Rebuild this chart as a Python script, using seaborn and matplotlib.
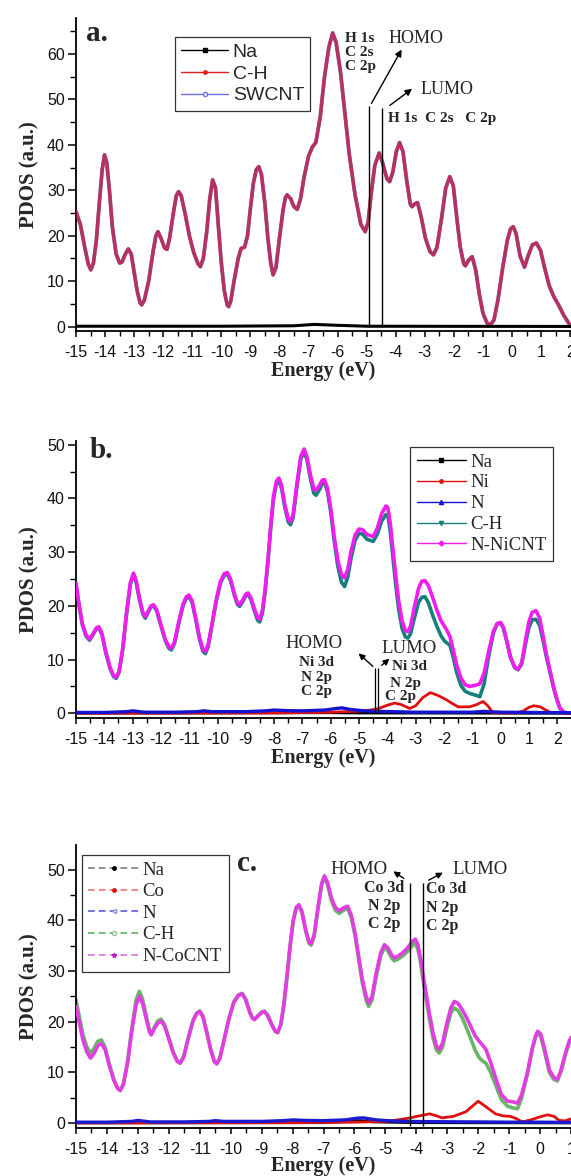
import numpy as np
import pandas as pd
import seaborn as sns
import matplotlib
matplotlib.use("Agg")
import matplotlib.pyplot as plt
from matplotlib.lines import Line2D
from matplotlib.ticker import MultipleLocator

sns.set_theme(style="ticks")
plt.rcParams['font.family'] = ['Liberation Sans', 'DejaVu Sans']
plt.rcParams['axes.unicode_minus'] = False
SERIF = ['Liberation Serif', 'DejaVu Serif']

# ---------------- panel a data ----------------
energy_a = [-15.0, -14.85, -14.7, -14.58, -14.49, -14.4, -14.3, -14.2, -14.1, -14.02, -13.94, -13.85,
            -13.75, -13.62, -13.5, -13.42, -13.3, -13.2, -13.1, -13.0, -12.9, -12.8, -12.74, -12.65,
            -12.5, -12.35, -12.25, -12.18, -12.08, -11.95, -11.87, -11.78, -11.65, -11.55, -11.47,
            -11.38, -11.25, -11.1, -10.95, -10.8, -10.72, -10.62, -10.5, -10.4, -10.3, -10.2, -10.1,
            -10.0, -9.9, -9.8, -9.75, -9.68, -9.55, -9.42, -9.32, -9.2, -9.1, -9.0, -8.9, -8.8, -8.71,
            -8.62, -8.5, -8.4, -8.3, -8.22, -8.12, -8.0, -7.88, -7.8, -7.74, -7.62, -7.5, -7.39, -7.28,
            -7.15, -7.0, -6.87, -6.75, -6.6, -6.45, -6.3, -6.17, -6.05, -5.9, -5.75, -5.6, -5.4, -5.2,
            -5.05, -4.95, -4.85, -4.72, -4.57, -4.45, -4.3, -4.21, -4.1, -3.98, -3.87, -3.75, -3.62,
            -3.5, -3.44, -3.35, -3.25, -3.12, -2.98, -2.82, -2.7, -2.58, -2.42, -2.28, -2.14, -2.02,
            -1.9, -1.78, -1.66, -1.6, -1.5, -1.37, -1.25, -1.12, -1.0, -0.86, -0.74, -0.62, -0.48,
            -0.32, -0.16, -0.05, 0.04, 0.14, 0.28, 0.43, 0.55, 0.7, 0.84, 0.98, 1.12, 1.28, 1.44, 1.6,
            1.78, 1.99]
ch_a = [25.3, 22.5, 17.5, 13.8, 12.5, 14.0, 19.0, 27.0, 34.5, 37.8, 36.0, 30.0,
        22.0, 16.0, 14.0, 14.2, 16.0, 17.1, 16.0, 12.0, 8.0, 5.3, 4.8, 5.8,
        10.0, 16.5, 20.0, 20.9, 19.5, 17.3, 17.0, 19.5, 25.0, 28.8, 29.7,
        28.8, 25.0, 20.0, 16.3, 13.8, 13.2, 15.0, 21.0, 28.0, 32.3, 30.5, 22.0,
        14.0, 8.0, 4.8, 4.4, 5.5, 10.5, 15.0, 17.2, 17.5, 20.0, 26.0, 31.5, 34.5, 35.2,
        33.5, 27.0, 19.5, 14.0, 11.4, 13.0, 19.5, 25.5, 28.3, 29.0, 28.2, 26.4, 25.8, 28.0,
        33.0, 37.5, 39.5, 40.5, 46.0, 55.0, 61.5, 64.6, 62.5, 56.0, 47.0, 38.0, 29.0, 22.5,
        20.9, 23.0, 29.0, 35.5, 38.2, 36.0, 32.5, 31.9, 34.0, 38.5, 40.5, 38.5, 32.0,
        27.0, 26.4, 27.0, 27.3, 24.0, 19.5, 16.5, 15.8, 17.5, 24.0, 30.5, 33.0, 31.0,
        24.0, 17.5, 13.8, 13.4, 14.6, 15.4, 12.5, 7.0, 3.0, 0.8, 0.4, 1.5, 6.0,
        13.0, 19.0, 21.5, 22.0, 20.5, 15.5, 13.1, 15.5, 18.0, 18.4, 16.8, 13.0, 9.0, 6.6, 4.8,
        2.5, 0.4]
swcnt_a = list(ch_a)  # SWCNT coincides with C-H in the picture
na_energy_a = [-15.0, -10.0, -7.5, -6.8, -6.0, -5.0, 2.03]
na_a = [0.1, 0.1, 0.2, 0.5, 0.3, 0.1, 0.05]

# ---------------- panel b data ----------------
energy_b = [-15.0, -14.9, -14.78, -14.65, -14.52, -14.4, -14.28, -14.19, -14.08, -13.95, -13.8, -13.68,
            -13.58, -13.48, -13.35, -13.22, -13.08, -12.97, -12.88, -12.76, -12.64, -12.55, -12.45,
            -12.35, -12.26, -12.15, -12.0, -11.85, -11.72, -11.63, -11.52, -11.38, -11.22, -11.1,
            -11.01, -10.9, -10.78, -10.64, -10.52, -10.43, -10.33, -10.2, -10.05, -9.9, -9.76, -9.65,
            -9.54, -9.4, -9.3, -9.22, -9.12, -9.0, -8.92, -8.82, -8.7, -8.58, -8.51, -8.42, -8.32,
            -8.22, -8.12, -8.02, -7.92, -7.83, -7.74, -7.62, -7.5, -7.42, -7.33, -7.2, -7.06, -6.94,
            -6.84, -6.72, -6.6, -6.52, -6.4, -6.3, -6.22, -6.12, -6.0, -5.88, -5.75, -5.62, -5.51,
            -5.4, -5.28, -5.14, -5.0, -4.88, -4.72, -4.5, -4.35, -4.2, -4.05, -3.98, -3.9, -3.8, -3.7,
            -3.6, -3.48, -3.36, -3.27, -3.18, -3.05, -2.9, -2.78, -2.67, -2.55, -2.4, -2.25, -2.1,
            -1.97, -1.87, -1.79, -1.68, -1.55, -1.4, -1.25, -1.09, -0.9, -0.73, -0.58, -0.42, -0.25,
            -0.12, 0.0, 0.1, 0.22, 0.35, 0.5, 0.62, 0.75, 0.88, 1.0, 1.12, 1.25, 1.38, 1.5, 1.62,
            1.74, 1.88, 2.0, 2.1, 2.21, 2.35, 2.49]
nicnt_b = [24.2, 20.5, 16.8, 14.6, 13.8, 14.8, 15.9, 16.1, 14.8, 11.5, 8.6, 7.1,
           6.7, 7.8, 12.0, 18.5, 24.3, 26.1, 24.8, 21.5, 18.8, 18.0, 19.0,
           20.0, 20.2, 19.3, 16.5, 13.8, 12.4, 12.1, 13.3, 16.8, 20.3, 21.7,
           22.0, 21.0, 18.0, 14.2, 12.0, 11.5, 12.8, 16.5, 21.0, 24.5, 26.0, 26.2,
           25.0, 22.2, 20.6, 20.2, 21.0, 22.2, 22.4, 21.5, 19.5, 17.8, 17.5, 19.0, 23.0,
           28.5, 35.0, 40.5, 43.2, 43.8, 42.5, 38.8, 36.2, 35.7, 37.0, 42.5, 47.8, 49.2,
           47.8, 44.5, 41.8, 41.5, 42.4, 43.4, 43.5, 42.0, 38.2, 33.0, 28.5, 25.8, 25.2,
           26.8, 30.2, 33.2, 34.3, 34.2, 33.3, 32.9, 34.5, 37.2, 38.6, 38.3, 35.5, 30.5, 25.5,
           21.0, 17.2, 15.4, 15.2, 16.2, 19.6, 23.2, 24.6, 24.7, 23.8, 21.6, 19.2, 17.2,
           16.1, 15.2, 14.3, 12.0, 9.0, 6.6, 5.3, 5.0, 5.2, 5.5, 7.5, 11.5, 15.3,
           16.7, 16.9, 16.0, 13.5, 10.5, 8.6, 8.2, 9.5, 13.5, 17.0, 18.8, 19.1, 17.8, 14.5, 11.0,
           8.1, 4.8, 2.5, 1.0, 0.3, 0.05, 0.0]
ch_b = [24.0, 20.3, 16.6, 14.4, 13.6, 14.6, 15.7, 15.9, 14.6, 11.3, 8.4, 6.9,
        6.5, 7.6, 11.8, 18.2, 24.0, 25.8, 24.5, 21.2, 18.5, 17.7, 18.8,
        19.8, 20.0, 19.1, 16.3, 13.6, 12.1, 11.8, 13.0, 16.5, 20.0, 21.4,
        21.7, 20.7, 17.7, 13.9, 11.6, 11.1, 12.4, 16.2, 20.7, 24.2, 25.7, 25.9,
        24.7, 21.9, 20.3, 19.9, 20.7, 21.9, 22.1, 21.2, 19.1, 17.3, 17.0, 18.5, 22.5,
        28.0, 34.5, 40.0, 42.7, 43.3, 42.0, 38.3, 35.6, 35.1, 36.4, 42.0, 47.3, 48.7,
        47.2, 43.8, 41.0, 40.6, 41.6, 42.8, 43.0, 41.4, 37.5, 32.2, 27.4, 24.4, 23.6,
        25.3, 28.9, 32.2, 33.5, 33.4, 32.4, 32.0, 33.4, 35.8, 37.0, 36.8, 34.0, 28.9, 23.8,
        19.4, 15.8, 14.2, 14.0, 14.8, 17.6, 20.6, 21.6, 21.7, 20.6, 18.3, 16.2, 14.4,
        13.4, 13.0, 12.7, 10.6, 7.6, 5.2, 4.1, 3.7, 3.4, 3.1, 5.5, 10.6, 15.0,
        16.6, 16.8, 15.9, 13.4, 10.4, 8.5, 8.1, 9.2, 12.8, 15.9, 17.4, 17.5, 16.4, 13.6, 10.5,
        7.8, 4.6, 2.4, 0.9, 0.25, 0.05, 0.0]
ni_energy_b = [-15.0, -8.0, -6.0, -5.0, -4.6, -4.3, -4.0, -3.74, -3.5, -3.21, -3.0, -2.75, -2.48, -2.2,
               -1.91, -1.7, -1.5, -1.09, -0.85, -0.62, -0.45, -0.27, 0.0, 0.5, 0.8, 1.0, 1.18, 1.4,
               1.74, 2.49]
ni_b = [0.0, 0.05, 0.2, 0.4, 0.6, 0.9, 1.5, 1.9, 1.6, 0.9, 1.4, 2.9, 3.85, 3.3,
        2.5, 1.8, 1.2, 1.2, 1.6, 2.2, 1.4, 0.1, 0.05, 0.05, 0.4, 1.1, 1.4, 1.2, 0.2, 0.0]
n_energy_b = [-15.0, -14.0, -13.2, -13.0, -12.6, -11.5, -10.7, -10.5, -10.2, -9.0, -8.3, -8.0, -7.6,
              -7.0, -6.2, -5.8, -5.6, -5.3, -4.8, -4.3, -3.8, -3.0, -2.0, -1.0, -0.6, 0.0, 1.0, 2.49]
n_b = [0.15, 0.15, 0.3, 0.45, 0.2, 0.2, 0.3, 0.45, 0.3, 0.3, 0.45, 0.6, 0.5,
       0.45, 0.6, 0.9, 1.0, 0.7, 0.45, 0.35, 0.3, 0.2, 0.2, 0.2, 0.35, 0.2, 0.15, 0.1]
na_energy_b = [-15.0, -6.0, -5.0, 2.49]
na_b = [0.02, 0.1, 0.05, 0.0]

# ---------------- panel c data ----------------
energy_c = [-15.0, -14.9, -14.78, -14.65, -14.53, -14.42, -14.3, -14.18, -14.06, -13.93, -13.78, -13.66,
            -13.57, -13.47, -13.33, -13.2, -13.06, -12.95, -12.85, -12.72, -12.62, -12.57, -12.46,
            -12.35, -12.25, -12.14, -12.0, -11.85, -11.72, -11.63, -11.52, -11.38, -11.22, -11.1,
            -11.0, -10.9, -10.78, -10.64, -10.53, -10.45, -10.35, -10.22, -10.06, -9.9, -9.75, -9.63,
            -9.52, -9.38, -9.3, -9.23, -9.12, -9.0, -8.91, -8.8, -8.68, -8.56, -8.48, -8.38, -8.28,
            -8.18, -8.08, -7.98, -7.88, -7.8, -7.7, -7.58, -7.47, -7.4, -7.3, -7.18, -7.06, -6.97,
            -6.87, -6.75, -6.62, -6.49, -6.35, -6.22, -6.1, -5.98, -5.88, -5.75, -5.62, -5.54, -5.43,
            -5.3, -5.15, -5.03, -4.92, -4.8, -4.71, -4.58, -4.44, -4.28, -4.12, -4.03, -3.95, -3.86,
            -3.79, -3.68, -3.58, -3.46, -3.35, -3.26, -3.15, -3.02, -2.88, -2.77, -2.65, -2.52, -2.4,
            -2.25, -2.1, -1.96, -1.85, -1.75, -1.6, -1.42, -1.25, -1.05, -0.9, -0.73, -0.6, -0.41,
            -0.25, -0.14, -0.08, 0.02, 0.14, 0.3, 0.44, 0.56, 0.68, 0.82, 0.94, 1.0]
cocnt_c = [23.0, 20.0, 16.5, 14.0, 12.8, 13.7, 15.2, 15.7, 14.5, 11.5, 8.5, 6.9,
           6.4, 7.6, 12.0, 18.0, 23.3, 25.0, 23.7, 20.3, 17.9, 17.4, 18.7,
           19.8, 20.1, 19.2, 16.6, 13.7, 12.1, 11.8, 13.0, 16.5, 20.1, 21.6,
           22.0, 21.0, 18.0, 14.3, 12.1, 11.7, 12.8, 16.2, 20.5, 23.8, 25.2, 25.5,
           24.4, 21.8, 20.7, 20.4, 21.1, 21.8, 22.0, 21.2, 19.5, 18.1, 17.9, 19.5, 23.5,
           29.0, 35.0, 40.0, 42.6, 43.1, 41.8, 38.3, 35.8, 35.4, 37.2, 42.5, 47.3, 48.8,
           47.5, 44.5, 42.6, 41.9, 42.5, 42.8, 41.0, 37.5, 33.5, 28.5, 24.9, 23.7, 25.0,
           29.5, 33.6, 35.2, 34.6, 33.2, 32.6, 33.0, 33.6, 34.6, 35.9, 36.3, 35.2, 32.5,
           29.6, 25.5, 21.7, 17.8, 15.2, 14.5, 15.8, 19.5, 22.8, 24.0, 23.6, 22.4, 21.1,
           19.2, 17.2, 16.1, 15.3, 14.5, 12.0, 8.6, 5.6, 4.3, 4.2, 3.9, 5.5, 9.9,
           14.8, 17.3, 18.1, 17.6, 14.8, 10.5, 9.0, 8.6, 10.5, 13.8, 16.1, 16.9]
ch_c = [24.3, 21.3, 17.6, 15.0, 13.8, 14.7, 16.1, 16.4, 15.0, 11.8, 8.6, 6.9,
        6.4, 7.6, 12.2, 18.5, 24.3, 26.0, 24.5, 20.9, 18.3, 17.6, 19.0,
        20.2, 20.5, 19.5, 16.8, 13.9, 12.2, 11.9, 13.1, 16.6, 20.2, 21.7,
        22.1, 21.2, 18.2, 14.4, 12.2, 11.7, 12.8, 16.3, 20.6, 23.9, 25.3, 25.6,
        24.5, 21.9, 20.8, 20.5, 21.2, 21.9, 22.1, 21.3, 19.5, 18.1, 17.8, 19.3, 23.3,
        28.8, 34.8, 39.8, 42.4, 42.9, 41.6, 38.0, 35.5, 35.1, 36.9, 42.2, 47.0, 48.5,
        47.1, 44.0, 42.0, 41.4, 42.0, 42.4, 40.5, 37.0, 33.0, 27.8, 24.2, 23.0, 24.3,
        28.8, 33.0, 34.7, 34.0, 32.6, 32.0, 32.4, 33.0, 33.9, 35.1, 35.4, 34.3, 31.6,
        28.6, 24.4, 20.6, 16.8, 14.4, 13.8, 15.0, 18.5, 21.8, 22.7, 22.2, 20.8, 19.1,
        16.8, 14.4, 12.8, 12.2, 11.8, 10.0, 7.2, 4.6, 3.3, 3.0, 2.8, 4.8, 9.6,
        14.6, 17.0, 17.6, 17.1, 14.2, 10.0, 8.6, 8.3, 10.2, 13.5, 15.8, 16.6]
co_energy_c = [-15.0, -8.0, -6.0, -5.0, -4.6, -4.2, -3.9, -3.57, -3.35, -3.16, -2.8, -2.4, -2.0, -1.75,
               -1.44, -1.2, -0.96, -0.75, -0.58, -0.3, 0.0, 0.24, 0.45, 0.62, 0.8, 1.0]
co_c = [0.0, 0.05, 0.15, 0.3, 0.6, 1.0, 1.4, 1.8, 1.4, 1.0, 1.3, 2.2, 4.3, 3.2,
        1.8, 1.4, 1.3, 0.8, 0.2, 0.6, 1.2, 1.6, 1.3, 0.5, 0.4, 0.8]
n_energy_c = [-15.0, -14.0, -13.2, -13.0, -12.6, -11.5, -10.7, -10.5, -10.2, -9.0, -8.3, -8.0, -7.6,
              -7.0, -6.3, -5.9, -5.7, -5.3, -4.8, -4.3, -3.5, -2.0, -1.0, 0.0, 1.0]
n_c = [0.15, 0.15, 0.3, 0.5, 0.2, 0.2, 0.3, 0.45, 0.3, 0.3, 0.45, 0.6, 0.5,
       0.45, 0.6, 0.95, 1.0, 0.6, 0.4, 0.3, 0.25, 0.2, 0.15, 0.15, 0.1]
na_energy_c = [-15.0, -7.0, -6.2, -5.8, -5.4, -4.0, 1.0]
na_c = [0.0, 0.05, 0.3, 0.45, 0.2, 0.05, 0.0]

xtick_labels = list(range(-15, 3))
xlabel = "Energy (eV)"
ylabel = "PDOS (a.u.)"

# ---------------- figure ----------------
W, H = 571, 1176
fig = plt.figure(figsize=(W / 100, H / 100), dpi=100)
fig.patch.set_facecolor("white")


def add_axes(left, top, right, bottom):
    return fig.add_axes([left / W, 1 - bottom / H, (right - left) / W, (bottom - top) / H])


def style(ax, xlim, ylim):
    ax.set_xlim(*xlim)
    ax.set_ylim(*ylim)
    ax.set_xticks([t for t in xtick_labels if t <= xlim[1] + 1e-6])
    ax.set_xticklabels([str(t) for t in xtick_labels if t <= xlim[1] + 1e-6])
    ax.xaxis.set_minor_locator(MultipleLocator(0.5))
    ax.yaxis.set_major_locator(MultipleLocator(10))
    ax.yaxis.set_minor_locator(MultipleLocator(5))
    ax.tick_params(axis="x", which="major", direction="out", length=4.5, width=1.1,
                   labelsize=11.5, pad=5.5, color="black", labelcolor="#111111")
    ax.tick_params(axis="x", which="minor", direction="out", length=3.5, width=1.0, color="black")
    ax.tick_params(axis="y", which="major", direction="out", length=5.5, width=1.1,
                   labelsize=11.5, pad=2.5, color="black", labelcolor="#111111")
    ax.tick_params(axis="y", which="minor", direction="out", length=4, width=1.0, color="black")
    for s in ["top", "right"]:
        ax.spines[s].set_visible(False)
    for s in ["left", "bottom"]:
        ax.spines[s].set_color("black")
        ax.spines[s].set_linewidth(1.3)
    ax.set_facecolor("white")
    ax.grid(False)


def labels(ax, xlab_y, ylab_x):
    ax.set_xlabel(xlabel, fontfamily=SERIF, fontweight="bold", fontsize=14.5)
    ax.set_ylabel(ylabel, fontfamily=SERIF, fontweight="bold", fontsize=15)
    ax.xaxis.label.set_va("center")
    ax.yaxis.label.set_va("center")
    ax.xaxis.set_label_coords(0.5, xlab_y)
    ax.yaxis.set_label_coords(ylab_x, 0.5)


def line(ax, x, y, color, lw, alpha=1.0, z=2):
    df = pd.DataFrame({"E": x, "P": y})
    sns.lineplot(data=df, x="E", y="P", ax=ax, color=color, linewidth=lw, alpha=alpha,
                 estimator=None, zorder=z, legend=False)


# ===== panel a =====
axA = add_axes(76, 18, 571, 331)
line(axA, energy_a, swcnt_a, "#5a5ad8", 2.6, z=2)
line(axA, energy_a, ch_a, "#e0202a", 2.6, alpha=0.68, z=3)
line(axA, na_energy_a, na_a, "black", 2.2, z=4)
style(axA, (-15, 2.03), (-0.95, 67.9))
labels(axA, -0.128, -0.093)
axA.vlines([-4.91, -4.48], 0, [48.5, 48.2], color="black", lw=1.0, zorder=5)
axA.annotate("", xy=(-3.75, 61.5), xytext=(-4.88, 48.6),
             arrowprops=dict(arrowstyle="-|>", color="black", lw=1.0, mutation_scale=10))
axA.annotate("", xy=(-3.36, 52.7), xytext=(-4.28, 48.3),
             arrowprops=dict(arrowstyle="-|>", color="black", lw=1.0, mutation_scale=10))
axA.text(-4.26, 63.3, "HOMO", fontfamily=SERIF, fontsize=13, ha="left", va="center")
axA.text(-3.15, 52.1, "LUMO", fontfamily=SERIF, fontsize=13, ha="left", va="center")
axA.text(-5.74, 64.8, "H 1s\nC 2s\nC 2p", fontfamily=SERIF, fontweight="bold", fontsize=11,
         ha="left", va="top", linespacing=1.1)
axA.text(-4.26, 45.7, "H 1s  C 2s   C 2p", fontfamily=SERIF, fontweight="bold", fontsize=11,
         ha="left", va="center")
axA.text(-14.64, 62.8, "a.", fontfamily=SERIF, fontweight="bold", fontsize=21, ha="left",
         va="baseline")
hA = [Line2D([0], [0], color="black", lw=1.0, marker="s", markersize=2.5),
      Line2D([0], [0], color="#e02020", lw=1.0, marker="o", markersize=2.5),
      Line2D([0], [0], color="#6f6fe6", lw=1.0, marker="o", markersize=3, mfc="white")]
legA = axA.legend(hA, ["Na", "C-H", "SWCNT"], loc="upper left", bbox_to_anchor=(0.2, 0.94),
                  borderaxespad=0, prop=dict(family=["Liberation Sans"], size=14),
                  handlelength=2.4, handletextpad=0.25, labelspacing=0.22, borderpad=0.32,
                  fancybox=False, framealpha=1, edgecolor="#333333")
legA.get_frame().set_linewidth(0.9)

# ===== panel b =====
axB = add_axes(76, 441, 571, 718)
line(axB, energy_b, ch_b, "#17807a", 2.6, z=2)
line(axB, energy_b, nicnt_b, "#f01cf0", 2.6, z=3)
line(axB, na_energy_b, na_b, "black", 2.0, z=3)
line(axB, ni_energy_b, ni_b, "#e01010", 2.0, z=4)
line(axB, n_energy_b, n_b, "#1414d0", 2.4, z=4)
style(axB, (-15, 2.49), (-0.88, 50.7))
labels(axB, -0.144, -0.093)
axB.vlines([-4.42, -4.33], 0, [8.4, 8.4], color="black", lw=0.9, zorder=5)
axB.annotate("", xy=(-5.09, 11.5), xytext=(-4.44, 8.4),
             arrowprops=dict(arrowstyle="-|>", color="black", lw=1.0, mutation_scale=9))
axB.annotate("", xy=(-3.85, 10.5), xytext=(-4.27, 8.6),
             arrowprops=dict(arrowstyle="-|>", color="black", lw=1.0, mutation_scale=9))
axB.text(-7.59, 13.0, "HOMO", fontfamily=SERIF, fontsize=13.5, ha="left", va="center")
axB.text(-4.21, 12.0, "LUMO", fontfamily=SERIF, fontsize=13.5, ha="left", va="center")
axB.text(-6.5, 10.6, "Ni 3d\nN 2p\nC 2p", fontfamily=SERIF, fontweight="bold", fontsize=11,
         ha="center", va="top", linespacing=1.15)
axB.text(-3.84, 8.8, "Ni 3d", fontfamily=SERIF, fontweight="bold", fontsize=11, ha="left",
         va="center")
axB.text(-3.91, 5.5, "N 2p", fontfamily=SERIF, fontweight="bold", fontsize=11, ha="left",
         va="center")
axB.text(-4.09, 3.1, "C 2p", fontfamily=SERIF, fontweight="bold", fontsize=11, ha="left",
         va="center")
axB.text(-14.52, 47.6, "b.", fontfamily=SERIF, fontweight="bold", fontsize=21, ha="left",
         va="baseline")
hB = [Line2D([0], [0], color="black", lw=1.0, marker="s", markersize=2.5),
      Line2D([0], [0], color="#e01010", lw=1.0, marker="o", markersize=2.5),
      Line2D([0], [0], color="#1414d0", lw=1.0, marker="^", markersize=3),
      Line2D([0], [0], color="#17807a", lw=1.0, marker="v", markersize=3),
      Line2D([0], [0], color="#f01cf0", lw=1.0, marker="D", markersize=2.5)]
legB = axB.legend(hB, ["Na", "Ni", "N", "C-H", "N-NiCNT"], loc="upper right",
                  bbox_to_anchor=(0.964, 0.979), borderaxespad=0,
                  prop=dict(family=SERIF, size=13.5),
                  handlelength=2.6, handletextpad=0.25, labelspacing=0.2, borderpad=0.35,
                  fancybox=False, framealpha=1, edgecolor="#333333")
legB.get_frame().set_linewidth(0.9)

# ===== panel c =====
axC = add_axes(76, 845, 571, 1128)
line(axC, energy_c, ch_c, "#4fa94f", 2.6, alpha=0.85, z=2)
line(axC, energy_c, cocnt_c, "#e23de2", 2.6, z=3)
line(axC, na_energy_c, na_c, "black", 2.0, z=3)
line(axC, co_energy_c, co_c, "#e01010", 2.0, z=4)
line(axC, n_energy_c, n_c, "#1a1ad0", 2.4, z=4)
style(axC, (-15, 1.0), (-1.0, 54.9))
labels(axC, -0.134, -0.093)
axC.vlines([-4.20, -3.79], -0.7, [47.4, 47.4], color="black", lw=1.0, zorder=5)
axC.annotate("", xy=(-4.82, 50.0), xytext=(-4.33, 48.0),
             arrowprops=dict(arrowstyle="-|>", color="black", lw=1.0, mutation_scale=9))
axC.annotate("", xy=(-3.06, 49.7), xytext=(-3.68, 47.7),
             arrowprops=dict(arrowstyle="-|>", color="black", lw=1.0, mutation_scale=9))
axC.text(-4.93, 50.1, "HOMO", fontfamily=SERIF, fontsize=13.5, ha="right", va="center")
axC.text(-2.83, 50.1, "LUMO", fontfamily=SERIF, fontsize=13.5, ha="left", va="center")
axC.text(-5.03, 47.9, "Co 3d\nN 2p\nC 2p", fontfamily=SERIF, fontweight="bold", fontsize=11.5,
         ha="center", va="top", linespacing=1.15)
axC.text(-3.68, 47.7, "Co 3d\nN 2p\nC 2p", fontfamily=SERIF, fontweight="bold", fontsize=11.5,
         ha="left", va="top", linespacing=1.2)
axC.text(-9.81, 49.8, "c.", fontfamily=SERIF, fontweight="bold", fontsize=21, ha="left",
         va="baseline")
dash = (0, (4, 2.5))
hC = [Line2D([0], [0], color="#7f7f7f", lw=1.2, ls=dash, marker="o", markersize=2.5,
             mfc="black", mec="black"),
      Line2D([0], [0], color="#f07878", lw=1.2, ls=dash, marker="o", markersize=2.5,
             mfc="#e01010", mec="#e01010"),
      Line2D([0], [0], color="#5a5ae0", lw=1.2, ls=dash, marker="<", markersize=3,
             mfc="white", mec="#9090e0"),
      Line2D([0], [0], color="#5fb05f", lw=1.2, ls=dash, marker="o", markersize=3,
             mfc="white", mec="#90c090"),
      Line2D([0], [0], color="#e070e0", lw=1.2, ls=dash, marker="*", markersize=3.5,
             mfc="#c020c0", mec="#c020c0")]
legC = axC.legend(hC, ["Na", "Co", "N", "C-H", "N-CoCNT"], loc="upper left",
                  bbox_to_anchor=(0.0115, 0.965), borderaxespad=0,
                  prop=dict(family=SERIF, size=13.5),
                  handlelength=2.7, handletextpad=0.2, labelspacing=0.24, borderpad=0.35,
                  fancybox=False, framealpha=1, edgecolor="#333333")
legC.get_frame().set_linewidth(0.9)

fig.savefig("out.png", dpi=100, facecolor="white")
